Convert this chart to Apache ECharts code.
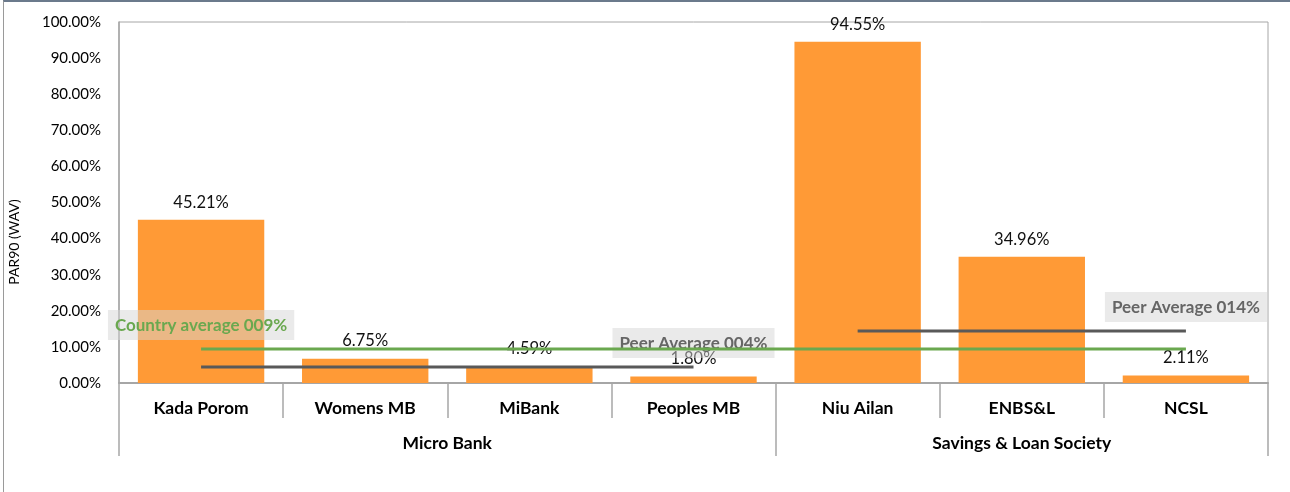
<!DOCTYPE html>
<html>
<head>
<meta charset="utf-8">
<script src="https://cdn.jsdelivr.net/npm/echarts@6/dist/echarts.min.js"></script>
<style>
html,body{margin:0;padding:0;background:#fff;}
#frame{position:absolute;left:3px;top:0;width:1287px;height:492px;border-top:2px solid #6b7a8c;border-left:1px solid #9a9a9a;box-sizing:border-box;}
#chart{position:absolute;left:0;top:0;width:1290px;height:492px;}
</style>
</head>
<body>
<div id="frame"></div>
<div id="chart"></div>
<script>
// ---- data ----
const categories = ['Kada Porom', 'Womens MB', 'MiBank', 'Peoples MB', 'Niu Ailan', 'ENBS&L', 'NCSL'];
const par90 = [45.21, 6.75, 4.59, 1.80, 94.55, 34.96, 2.11];
const groupNames = ['Micro Bank', 'Savings & Loan Society'];
const groupSizes = [4, 3];
const countryAverage = [9.42, 9.42, 9.42, 9.42, 9.42, 9.42, 9.42];
const peerAverageMicro = [4.43, 4.43, 4.43, 4.43, null, null, null];
const peerAverageSL = [null, null, null, null, 14.4, 14.4, 14.4];
const countryLabel = 'Country average 009%';
const peerMicroLabel = 'Peer Average 004%';
const peerSLLabel = 'Peer Average 014%';
const yTicks = [0, 10, 20, 30, 40, 50, 60, 70, 80, 90, 100];
const yAxisTitle = 'PAR90 (WAV)';

// group boundaries & centres derived from sizes
const groupBounds = [0];
const groupCenters = [];
groupSizes.forEach(s => { const a = groupBounds[groupBounds.length - 1]; groupCenters.push(a + s / 2); groupBounds.push(a + s); });

const FONT = 'Lato, "Open Sans", sans-serif';
const AXIS_GREY = '#a6a6a6';

function labelled(arr, idx, text, color) {
  return arr.map((v, i) => i === idx ? {
    value: v,
    label: {
      show: true, position: 'top', distance: 9,
      formatter: text, color: color, fontFamily: FONT, fontWeight: 'bold', fontSize: 17,
      backgroundColor: 'rgba(214,214,214,0.5)', padding: [7, 7, 6, 7]
    }
  } : v);
}
const lastIdx = a => { let k = -1; a.forEach((v, i) => { if (v != null) k = i; }); return k; };

const chart = echarts.init(document.getElementById('chart'), null, {renderer: 'canvas'});
chart.setOption({
  animation: false,
  textStyle: {fontFamily: FONT},
  grid: {left: 119, right: 22, top: 22, bottom: 109, show: true, borderColor: AXIS_GREY, borderWidth: 1},
  xAxis: [{
    type: 'category', data: categories, position: 'bottom',
    axisLine: {show: true, lineStyle: {color: AXIS_GREY, width: 2}},
    axisTick: {show: true, interval: 0, length: 35, lineStyle: {color: AXIS_GREY, width: 1.5}},
    axisLabel: {interval: 0, margin: 16, color: '#000', fontFamily: FONT, fontWeight: 'bold', fontSize: 17.5}
  }, {
    type: 'value', min: 0, max: categories.length, position: 'bottom',
    axisLine: {show: false}, splitLine: {show: false},
    axisTick: {show: true, customValues: groupBounds, length: 73, lineStyle: {color: AXIS_GREY, width: 1.5}},
    axisLabel: {customValues: groupCenters, margin: 51, color: '#000', fontFamily: FONT, fontWeight: 'bold', fontSize: 17.5,
      formatter: v => groupNames[groupCenters.indexOf(v)] || ''}
  }],
  yAxis: {
    type: 'value', min: yTicks[0], max: yTicks[yTicks.length - 1], interval: yTicks[1] - yTicks[0],
    axisLine: {show: true, lineStyle: {color: AXIS_GREY, width: 1.5}},
    axisTick: {show: false}, splitLine: {show: false},
    axisLabel: {margin: 18, color: '#000', fontFamily: FONT, fontSize: 15, formatter: v => v.toFixed(2) + '%'}
  },
  graphic: [{
    type: 'text', x: 14, y: 242, rotation: Math.PI / 2,
    style: {text: yAxisTitle, fill: '#000', font: '14px ' + FONT, align: 'center', verticalAlign: 'middle'}
  }],
  series: [{
    type: 'bar', data: par90, xAxisIndex: 0, barCategoryGap: '23%',
    itemStyle: {color: '#ff9a36'},
    label: {show: true, position: 'top', distance: 9, color: '#111', fontFamily: FONT, fontSize: 16.5,
      formatter: p => p.value.toFixed(2) + '%'},
    z: 2
  }, {
    type: 'line', xAxisIndex: 0, data: labelled(peerAverageMicro, lastIdx(peerAverageMicro), peerMicroLabel, '#666'),
    symbol: 'circle', symbolSize: 0, showSymbol: true, lineStyle: {color: '#595959', width: 3}, z: 3
  }, {
    type: 'line', xAxisIndex: 0, data: labelled(peerAverageSL, lastIdx(peerAverageSL), peerSLLabel, '#666'),
    symbol: 'circle', symbolSize: 0, showSymbol: true, lineStyle: {color: '#595959', width: 3}, z: 3
  }, {
    type: 'line', xAxisIndex: 0, data: labelled(countryAverage, 0, countryLabel, '#6aa84f'),
    symbol: 'circle', symbolSize: 0, showSymbol: true, lineStyle: {color: '#6aa84f', width: 3}, z: 4
  }]
});
</script>
</body>
</html>
